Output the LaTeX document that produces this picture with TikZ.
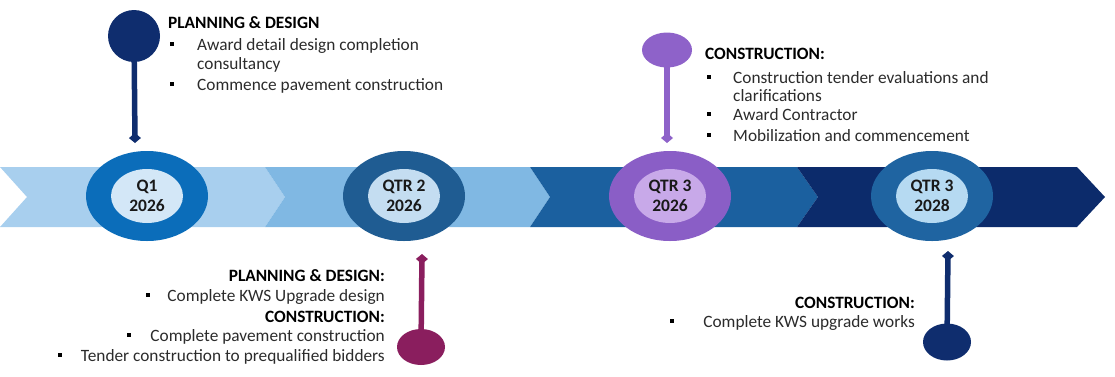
\documentclass[tikz,border=0pt]{standalone}
\usepackage{fontspec}
\setmainfont{Carlito}
\usetikzlibrary{arrows.meta,shapes.geometric,calc}
\definecolor{segA}{HTML}{A8CFEE}
\definecolor{segB}{HTML}{80B8E3}
\definecolor{segC}{HTML}{1B609F}
\definecolor{segD}{HTML}{0C2B6B}
\definecolor{ringA}{HTML}{0B6DBA}
\definecolor{innerA}{HTML}{D3E7F7}
\definecolor{ringB}{HTML}{1F5C92}
\definecolor{innerB}{HTML}{C4DDF1}
\definecolor{ringC}{HTML}{8A5EC6}
\definecolor{innerC}{HTML}{C8A9E9}
\definecolor{ringD}{HTML}{1F64A1}
\definecolor{innerD}{HTML}{B6DAF2}
\definecolor{pinNavy}{HTML}{0F2D6E}
\definecolor{pinPurple}{HTML}{8E62C9}
\definecolor{pinMagenta}{HTML}{8A1E5E}
\definecolor{txt}{HTML}{2B2B2B}
\pgfdeclarelayer{bg}
\pgfsetlayers{bg,main}
\begin{document}
\begin{tikzpicture}[x=1pt,y=-1pt,
  ring/.style={ellipse,inner sep=0,minimum width=122pt,minimum height=90pt},
  inner/.style={ellipse,inner sep=0,minimum width=72pt,minimum height=54pt},
  qlabel/.style={font=\fontsize{17.5}{20}\selectfont\bfseries,text=black!90,align=center,inner sep=0},
  pinhead/.style={ellipse,inner sep=0},
  stem/.style={line width=5.5pt,-{Diamond[length=10pt,width=12pt]}},
  hdr/.style={font=\fontsize{17.3}{20}\selectfont\bfseries,text=black,inner sep=0},
  txtline/.style={font=\fontsize{17.3}{20}\selectfont,text=txt,inner sep=0},
  bul/.style={fill=black,minimum size=4pt,inner sep=0}]
\useasboundingbox (0,0) rectangle (1115,376);
% band
\fill[segA] (0,167) -- (265,167) -- (285,197) -- (265,227) -- (0,227) -- (27,197) -- cycle;
\fill[segB] (265,167) -- (530,167) -- (550,197) -- (530,227) -- (265,227) -- (285,197) -- cycle;
\fill[segC] (530,167) -- (797,167) -- (818,197) -- (797,227) -- (530,227) -- (550,197) -- cycle;
\fill[segD] (797,167) -- (1077,167) -- (1105,197) -- (1077,227) -- (797,227) -- (818,197) -- cycle;
% milestones
\node[ring,fill=ringA] (q1) at (147,196) {};
\node[inner,fill=innerA] (q1i) at (q1.center) {};
\node[qlabel] (q1t) at (q1.center) {Q1\\2026};
\node[ring,fill=ringB] (q2) at (404,196) {};
\node[inner,fill=innerB] (q2i) at (q2.center) {};
\node[qlabel] (q2t) at (q2.center) {QTR 2\\2026};
\node[ring,fill=ringC] (q3) at (670,196) {};
\node[inner,fill=innerC] (q3i) at (q3.center) {};
\node[qlabel] (q3t) at (q3.center) {QTR 3\\2026};
\node[ring,fill=ringD] (q4) at (932,196) {};
\node[inner,fill=innerD] (q4i) at (q4.center) {};
\node[qlabel] (q4t) at (q4.center) {QTR 3\\2028};
% pins
\node[pinhead,fill=pinNavy,minimum width=52pt,minimum height=52pt] (p1) at (134,36) {};
\coordinate (p1tip) at (135,143);
\node[pinhead,fill=pinPurple,minimum width=50pt,minimum height=35pt] (p2) at (667,50) {};
\coordinate (p2tip) at (667,143);
\node[pinhead,fill=pinMagenta,minimum width=48pt,minimum height=36pt] (p3) at (421,347) {};
\coordinate (p3tip) at (422,254);
\node[pinhead,fill=pinNavy,minimum width=48pt,minimum height=37pt] (p4) at (947,342) {};
\coordinate (p4tip) at (948,251);
\begin{pgfonlayer}{bg}
\draw[stem,pinNavy] (p1.center) -- (p1tip);
\draw[stem,pinPurple] (p2.center) -- (p2tip);
\draw[stem,pinMagenta] (p3.center) -- (p3tip);
\draw[stem,pinNavy] (p4.center) -- (p4tip);
\end{pgfonlayer}
% top-left text
\node[hdr,anchor=base west] (h1) at (168,28.5) {PLANNING \& DESIGN};
\node[txtline,anchor=base west] (a1) at (197,50.7) {Award detail design completion};
\node[txtline,anchor=base west] (a2) at (197,69.3) {consultancy};
\node[txtline,anchor=base west] (a3) at (197,90.7) {Commence pavement construction};
\node[bul] (ba1) at (171.5,44.2) {};
\node[bul] (ba3) at (171.5,84.2) {};
% purple text
\node[hdr,anchor=base west] (h2) at (705,59.3) {CONSTRUCTION:};
\node[txtline,anchor=base west] (c1) at (733,83.3) {Construction tender evaluations and};
\node[txtline,anchor=base west] (c2) at (733,101) {clarifications};
\node[txtline,anchor=base west] (c3) at (733,120.7) {Award Contractor};
\node[txtline,anchor=base west] (c4) at (733,141.7) {Mobilization and commencement};
\node[bul] (bc1) at (709,76.8) {};
\node[bul] (bc3) at (709,114.2) {};
\node[bul] (bc4) at (709,135.2) {};
% bottom-left text
\node[hdr,anchor=base east] (h3) at (385,281.7) {PLANNING \& DESIGN:};
\node[txtline,anchor=base east] (d1) at (385,301.7) {Complete KWS Upgrade design};
\node[hdr,anchor=base east] (h4) at (385,322.7) {CONSTRUCTION:};
\node[txtline,anchor=base east] (d2) at (385,341.7) {Complete pavement construction};
\node[txtline,anchor=base east] (d3) at (385,361.7) {Tender construction to prequalified bidders};
\node[bul] (bd1) at ($(d1.base west)+(-19,-6.5)$) {};
\node[bul] (bd2) at ($(d2.base west)+(-21,-6.5)$) {};
\node[bul] (bd3) at ($(d3.base west)+(-21,-6.5)$) {};
% bottom-right text
\node[hdr,anchor=base east] (h5) at (915,308.3) {CONSTRUCTION:};
\node[txtline,anchor=base east] (e1) at (915,327.3) {Complete KWS upgrade works};
\node[bul] (be1) at (672,320.8) {};
\end{tikzpicture}
\end{document}
